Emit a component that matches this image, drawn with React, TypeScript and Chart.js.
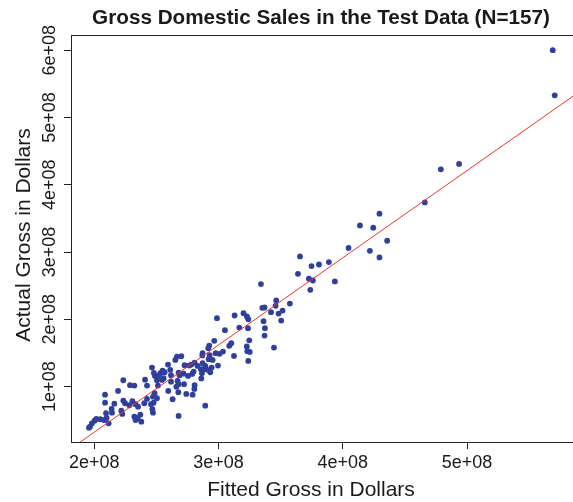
import React, { useEffect, useRef } from "react";
import { Chart, registerables } from "chart.js";

Chart.register(...registerables);

// Values in units of 1e8 dollars
const UNIT = 1e8;

const fittedGross = [
  5.690, 5.706, 4.936, 4.789, 4.660, 4.295, 4.138, 4.245, 4.357, 4.046,
  4.218, 4.295, 3.888, 3.808, 3.748, 3.655, 3.639, 3.727, 3.759, 3.738,
  3.936, 3.341, 3.574, 3.464, 3.459, 3.352, 3.370, 3.422, 3.515, 3.483,
  3.504, 3.362, 3.201, 3.228, 3.239, 3.129, 2.987, 3.167, 3.237, 3.373,
  3.051, 3.370, 3.446, 3.247, 3.227, 3.231, 3.251, 3.239,
  2.965, 2.925, 2.917, 3.102, 3.086, 3.035, 3.008, 2.976, 3.124, 2.871,
  2.869, 2.920, 2.928, 2.952, 2.871, 2.893, 2.831, 2.807, 2.780, 2.858,
  2.887, 2.912, 2.944, 2.995, 2.933, 2.866, 2.799, 2.788, 2.764, 2.726,
  2.700, 2.665, 2.652, 2.718, 2.678, 2.686, 2.754, 2.593, 2.549, 2.611,
  2.566, 2.531, 2.617, 2.515, 2.488, 2.464, 2.558, 2.545, 2.678, 2.722,
  2.670, 2.807, 2.805, 2.791, 2.512, 2.485, 2.504, 2.595, 2.676, 2.740,
  2.630, 2.472, 2.893, 2.861,
  2.479, 2.504, 2.233, 2.287, 2.322, 2.408, 2.424, 2.191, 2.086, 2.086,
  2.233, 2.161, 2.247, 2.306, 2.282, 2.332, 2.352, 2.424, 2.402, 2.456,
  2.477, 2.467, 2.139, 2.142, 2.217, 2.225, 2.099, 2.094, 2.322, 2.348,
  2.378, 2.332, 2.472, 2.016, 2.002, 2.048, 1.981, 1.965, 1.957, 2.078,
  2.115, 2.678, 2.370, 2.617, 2.660,
];

const actualGross = [
  6.000, 5.330, 4.310, 4.229, 3.738, 3.570, 3.396, 3.362, 3.168, 3.060,
  3.019, 2.920, 2.851, 2.815, 2.792, 2.935, 2.677, 2.603, 2.577, 2.439,
  2.563, 2.524, 2.235, 2.280, 2.201, 2.171, 2.176, 2.107, 2.131, 2.086,
  1.982, 1.973, 2.092, 2.042, 2.003, 2.057, 2.018, 1.878, 1.869, 1.869,
  1.839, 1.759, 1.580, 1.688, 1.598, 1.527, 1.516, 1.382,
  1.680, 1.610, 1.571, 1.646, 1.606, 1.521, 1.487, 1.497, 1.457, 1.497,
  1.461, 1.408, 1.467, 1.397, 1.348, 1.308, 1.308, 1.357, 1.327, 1.259,
  1.259, 1.249, 1.283, 1.313, 1.214, 1.199, 1.223, 1.189, 1.313, 1.318,
  1.452, 1.446, 1.397, 1.193, 1.208, 1.170, 1.159, 1.327, 1.238, 1.249,
  1.214, 1.199, 1.170, 1.159, 1.159, 1.283, 1.125, 1.100, 1.036, 1.036,
  1.085, 1.021, 0.966, 0.881, 1.015, 0.902, 0.827, 0.936, 0.917, 0.891,
  0.812, 0.851, 0.717, 1.122,
  1.204, 1.095, 1.095, 1.021, 1.015, 1.104, 1.015, 0.936, 0.881, 0.762,
  0.792, 0.747, 0.753, 0.783, 0.723, 0.738, 0.702, 0.817, 0.753, 0.738,
  0.762, 0.664, 0.668, 0.613, 0.643, 0.594, 0.534, 0.604, 0.554, 0.530,
  0.479, 0.504, 0.613, 0.519, 0.494, 0.515, 0.455, 0.405, 0.390, 0.504,
  0.455, 0.564, 0.583, 1.074, 1.000,
];

// Fitted regression line end points (units of 1e8)
const fitLineX = [1.812, 5.853];
const fitLineY = [0.08, 5.316];

const xRange = [1.812, 5.853];
const yRange = [0.177, 6.226];

const xTickValues = [2, 3, 4, 5];
const xTickLabels = ["2e+08", "3e+08", "4e+08", "5e+08"];
const yTickValues = [1, 2, 3, 4, 5, 6];
const yTickLabels = ["1e+08", "2e+08", "3e+08", "4e+08", "5e+08", "6e+08"];

const titleText = "Gross Domestic Sales in the Test Data (N=157)";
const xTitleText = "Fitted Gross in Dollars";
const yTitleText = "Actual Gross in Dollars";

const FONT = "'Liberation Sans', Arial, Helvetica, sans-serif";
const AXIS_COLOR = "#222222";
const TEXT_COLOR = "#1a1a1a";
const POINT_COLOR = "#2E3F9E";
const LINE_COLOR = "#E8352B";

const decorPlugin = {
  id: "decor",
  afterDraw(chart: any) {
    const { ctx, chartArea: a, scales } = chart;
    ctx.save();
    // top border of the plot box
    ctx.strokeStyle = AXIS_COLOR;
    ctx.lineWidth = 1;
    ctx.beginPath();
    ctx.moveTo(a.left, a.top + 0.5);
    ctx.lineTo(a.right, a.top + 0.5);
    ctx.stroke();

    ctx.fillStyle = TEXT_COLOR;
    // y tick labels (rotated, parallel to axis)
    ctx.font = `18px ${FONT}`;
    ctx.textAlign = "center";
    ctx.textBaseline = "alphabetic";
    yTickValues.forEach((v, i) => {
      const py = scales.y.getPixelForValue(v * UNIT);
      ctx.save();
      ctx.translate(55, py);
      ctx.rotate(-Math.PI / 2);
      ctx.fillText(yTickLabels[i], 0, 0);
      ctx.restore();
    });

    // y axis title
    ctx.font = `21px ${FONT}`;
    ctx.save();
    ctx.translate(29.5, 235);
    ctx.rotate(-Math.PI / 2);
    ctx.fillText(yTitleText, 0, 0);
    ctx.restore();

    // x axis title
    ctx.fillText(xTitleText, 311, 496);

    // main title
    ctx.font = `bold 20.7px ${FONT}`;
    ctx.fillText(titleText, 321, 24);
    ctx.restore();
  },
};

export default function App() {
  const canvasRef = useRef<HTMLCanvasElement | null>(null);

  useEffect(() => {
    const canvas = canvasRef.current;
    if (!canvas) return;
    const points = fittedGross.map((x, i) => ({ x: x * UNIT, y: actualGross[i] * UNIT }));
    const linePts = fitLineX.map((x, i) => ({ x: x * UNIT, y: fitLineY[i] * UNIT }));

    const chart = new Chart(canvas, {
      type: "scatter",
      data: {
        datasets: [
          {
            label: "fit",
            data: linePts,
            showLine: true,
            borderColor: LINE_COLOR,
            borderWidth: 1,
            pointRadius: 0,
            pointHoverRadius: 0,
            fill: false,
          } as any,
          {
            label: "movies",
            data: points,
            pointRadius: 2.9,
            pointHoverRadius: 2.9,
            pointBackgroundColor: POINT_COLOR,
            pointBorderWidth: 0,
            borderWidth: 0,
            showLine: false,
          } as any,
        ],
      },
      options: {
        responsive: false,
        animation: false,
        events: [],
        devicePixelRatio: 1,
        layout: { autoPadding: false, padding: { top: 35, left: 0, right: 0, bottom: 0 } },
        plugins: {
          legend: { display: false },
          tooltip: { enabled: false },
          title: { display: false },
        },
        scales: {
          x: {
            type: "linear",
            position: "bottom",
            min: xRange[0] * UNIT,
            max: xRange[1] * UNIT,
            afterBuildTicks: (s: any) => {
              s.ticks = xTickValues.map((v) => ({ value: v * UNIT }));
            },
            afterFit: (s: any) => {
              s.height = 60;
              s.paddingLeft = 0;
              s.paddingRight = 0;
            },
            ticks: {
              autoSkip: false,
              maxRotation: 0,
              minRotation: 0,
              padding: 3,
              color: TEXT_COLOR,
              font: { size: 18, family: FONT },
              callback: (_v: any, i: number) => xTickLabels[i],
            },
            grid: {
              display: true,
              drawOnChartArea: false,
              drawTicks: true,
              tickLength: 7,
              color: AXIS_COLOR,
              tickColor: AXIS_COLOR,
            },
            border: { display: true, color: AXIS_COLOR, width: 1 },
          },
          y: {
            type: "linear",
            position: "left",
            min: yRange[0] * UNIT,
            max: yRange[1] * UNIT,
            afterBuildTicks: (s: any) => {
              s.ticks = yTickValues.map((v) => ({ value: v * UNIT }));
            },
            afterFit: (s: any) => {
              s.width = 71;
              s.paddingTop = 0;
              s.paddingBottom = 0;
            },
            ticks: { display: false },
            grid: {
              display: true,
              drawOnChartArea: false,
              drawTicks: true,
              tickLength: 7,
              color: AXIS_COLOR,
              tickColor: AXIS_COLOR,
            },
            border: { display: true, color: AXIS_COLOR, width: 1 },
          },
        },
      },
      plugins: [decorPlugin],
    });
    return () => chart.destroy();
  }, []);

  return (
    <div style={{ position: "fixed", left: 0, top: 0, width: 573, height: 502, background: "#fff", overflow: "hidden" }}>
      <canvas ref={canvasRef} width={573} height={502} style={{ display: "block" }} />
    </div>
  );
}
